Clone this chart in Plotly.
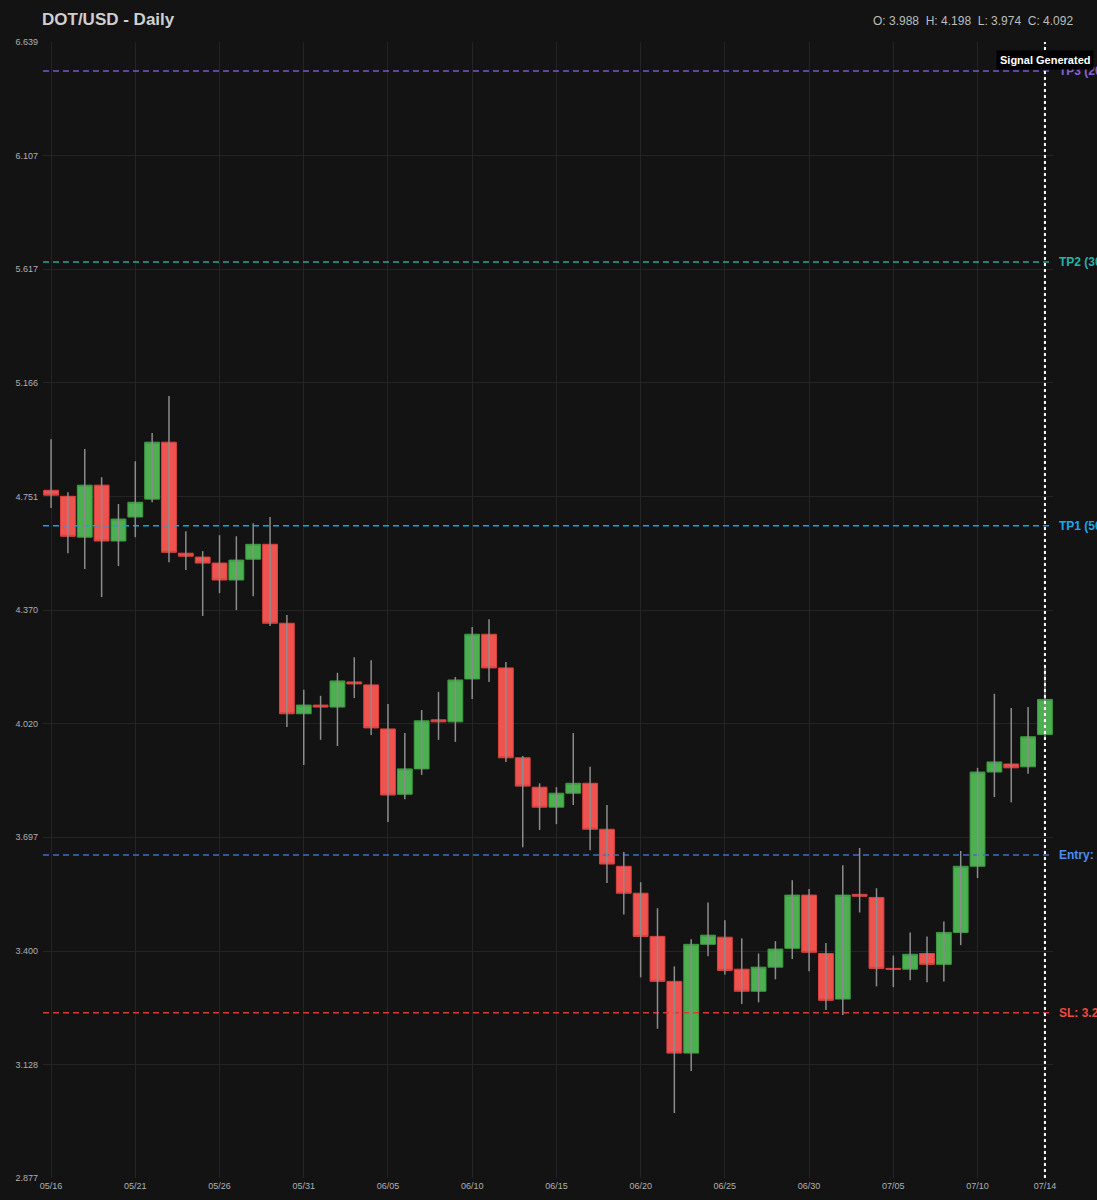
import math
import pandas as pd
import plotly.graph_objects as go

# ---------------- data ----------------
dates = pd.date_range("2025-05-16", "2025-07-14", freq="D")

opens = [4.773, 4.752, 4.611, 4.791, 4.598, 4.680, 4.742, 4.945, 4.557, 4.544,
         4.524, 4.468, 4.537, 4.587, 4.328, 4.049, 4.075, 4.069, 4.145, 4.136,
         4.004, 3.816, 3.888, 4.031, 4.025, 4.154, 4.293, 4.188, 3.920, 3.836,
         3.780, 3.819, 3.847, 3.719, 3.619, 3.548, 3.437, 3.325, 3.154, 3.417,
         3.435, 3.355, 3.301, 3.360, 3.407, 3.543, 3.394, 3.282, 3.545, 3.537,
         3.357, 3.355, 3.394, 3.367, 3.447, 3.619, 3.879, 3.902, 3.894, 3.988]
highs = [4.956, 4.766, 4.920, 4.819, 4.725, 4.876, 4.979, 5.116, 4.631, 4.564,
         4.618, 4.614, 4.659, 4.680, 4.354, 4.121, 4.103, 4.173, 4.221, 4.212,
         4.078, 3.992, 4.060, 4.115, 4.160, 4.316, 4.341, 4.206, 3.925, 3.847,
         3.836, 3.992, 3.894, 3.786, 3.657, 3.577, 3.509, 3.362, 3.430, 3.524,
         3.478, 3.432, 3.394, 3.425, 3.582, 3.559, 3.420, 3.622, 3.668, 3.561,
         3.389, 3.447, 3.437, 3.475, 3.660, 3.891, 4.109, 4.066, 4.069, 4.198]
lows = [4.711, 4.557, 4.504, 4.412, 4.514, 4.611, 4.731, 4.527, 4.501, 4.351,
        4.425, 4.370, 4.415, 4.319, 4.010, 3.899, 3.972, 3.954, 4.096, 3.986,
        3.739, 3.802, 3.871, 3.972, 3.966, 4.093, 4.145, 3.908, 3.670, 3.717,
        3.733, 3.786, 3.662, 3.575, 3.493, 3.335, 3.211, 3.018, 3.113, 3.387,
        3.342, 3.270, 3.274, 3.330, 3.380, 3.350, 3.256, 3.244, 3.498, 3.313,
        3.311, 3.328, 3.323, 3.325, 3.415, 3.588, 3.808, 3.794, 3.874, 3.974]
closes = [4.756, 4.614, 4.791, 4.598, 4.673, 4.731, 4.945, 4.560, 4.547, 4.524,
          4.468, 4.534, 4.587, 4.328, 4.049, 4.075, 4.069, 4.148, 4.139, 4.007,
          3.814, 3.888, 4.028, 4.025, 4.151, 4.293, 4.188, 3.920, 3.839, 3.780,
          3.819, 3.847, 3.719, 3.625, 3.548, 3.437, 3.325, 3.154, 3.417, 3.440,
          3.352, 3.301, 3.360, 3.405, 3.543, 3.397, 3.279, 3.543, 3.540, 3.357,
          3.355, 3.392, 3.367, 3.447, 3.619, 3.879, 3.908, 3.891, 3.981, 4.092]

level_names = ["TP3 (20%): 6.499", "TP2 (30%): 5.646", "TP1 (50%): 4.650",
               "Entry: 3.649", "SL: 3.249"]
level_values = [6.499, 5.646, 4.650, 3.649, 3.249]
level_line_colors = ["#7e57c2", "#26a69a", "#0ea5e9", "#3d6fc4", "#d63a36"]
level_text_colors = ["#8c62d6", "#26b3a5", "#1aa8e8", "#4a8df0", "#ef4a40"]

y_tick_values = [6.639, 6.107, 5.617, 5.166, 4.751, 4.370, 4.020, 3.697, 3.400, 3.128, 2.877]
x_tick_dates = ["2025-05-16", "2025-05-21", "2025-05-26", "2025-05-31", "2025-06-05",
                "2025-06-10", "2025-06-15", "2025-06-20", "2025-06-25", "2025-06-30",
                "2025-07-05", "2025-07-10", "2025-07-14"]
x_tick_labels = ["05/16", "05/21", "05/26", "05/31", "06/05", "06/10", "06/15",
                 "06/20", "06/25", "06/30", "07/05", "07/10", "07/14"]
signal_date = "2025-07-14"
title_text = "DOT/USD - Daily"

# ---------------- figure ----------------
BG = "#131313"
FONT = "Liberation Sans, Arial, sans-serif"
fig = go.Figure()

x_start = dates[0] - pd.Timedelta(hours=11.5)
x_end = dates[-1] + pd.Timedelta(hours=11.5)

# price level lines (behind candles)
for name, val, lc in zip(level_names, level_values, level_line_colors):
    fig.add_trace(go.Scatter(
        x=[x_start, x_end], y=[val, val], mode="lines",
        line=dict(color=lc, width=1.5, dash="6px,4px"),
        hoverinfo="skip", showlegend=False))

# wicks
wx, wy = [], []
for d, lo, hi in zip(dates, lows, highs):
    wx += [d, d, None]
    wy += [lo, hi, None]
fig.add_trace(go.Scatter(x=wx, y=wy, mode="lines",
                         line=dict(color="#8c8c8c", width=1.5),
                         hoverinfo="skip", showlegend=False))

# bodies
body_hi = [max(o, c) for o, c in zip(opens, closes)]
body_lo = [min(o, c) for o, c in zip(opens, closes)]
fig.add_trace(go.Candlestick(
    x=dates, open=opens, high=body_hi, low=body_lo, close=closes,
    increasing=dict(line=dict(color="#3f9a43", width=1), fillcolor="#4caf50"),
    decreasing=dict(line=dict(color="#d9423f", width=1), fillcolor="#ef5350"),
    whiskerwidth=0, showlegend=False))

# signal vertical line
fig.add_trace(go.Scatter(
    x=[signal_date, signal_date], y=[y_tick_values[-1], y_tick_values[0]],
    mode="lines", line=dict(color="#ffffff", width=2, dash="3px,3px"),
    hoverinfo="skip", showlegend=False))

annotations = []
for name, val, tc in zip(level_names, level_values, level_text_colors):
    annotations.append(dict(
        xref="paper", x=1.0, xshift=4, xanchor="left",
        yref="y", y=math.log10(val), yanchor="middle",
        text="<b>" + name + "</b>", showarrow=False,
        font=dict(family=FONT, size=12, color=tc)))

annotations.append(dict(
    xref="x", x=signal_date, yref="paper", y=0.984, xanchor="center", yanchor="middle",
    text="<b>Signal Generated</b>", showarrow=False, bgcolor="#000000",
    borderpad=3, font=dict(family=FONT, size=11, color="#ffffff")))

annotations.append(dict(
    xref="paper", x=0.0, xshift=-3, yref="paper", y=1.0194, xanchor="left", yanchor="middle",
    text="<b>" + title_text + "</b>", showarrow=False,
    font=dict(family=FONT, size=17, color="#cfcfcf")))

last = len(opens) - 1
ohlc_text = "O: %.3f  H: %.3f  L: %.3f  C: %.3f" % (opens[last], highs[last], lows[last], closes[last])
annotations.append(dict(
    xref="paper", x=1.0, xshift=22, yref="paper", y=1.0185, xanchor="right", yanchor="middle",
    text=ohlc_text, showarrow=False,
    font=dict(family=FONT, size=12, color="#bdbdbd")))

fig.update_layout(
    width=1097, height=1200,
    margin=dict(l=43, r=44, t=42, b=22, autoexpand=False),
    paper_bgcolor=BG, plot_bgcolor=BG,
    showlegend=False,
    boxgap=0.12, boxgroupgap=0,
    annotations=annotations,
    xaxis=dict(
        type="date", range=[x_start, x_end], automargin=False,
        rangeslider=dict(visible=False),
        tickvals=x_tick_dates, ticktext=x_tick_labels,
        showgrid=True, gridcolor="#242424", gridwidth=1,
        zeroline=False, showline=False, ticks="", ticklabelstandoff=1,
        tickfont=dict(family=FONT, size=9, color="#b0b0b0")),
    yaxis=dict(
        type="log", range=[math.log10(y_tick_values[-1]), math.log10(y_tick_values[0])],
        automargin=False,
        tickvals=y_tick_values, ticktext=["%.3f" % v for v in y_tick_values],
        showgrid=True, gridcolor="#242424", gridwidth=1,
        zeroline=False, showline=False, ticks="", ticklabelstandoff=4,
        tickfont=dict(family=FONT, size=9, color="#b0b0b0")),
)

fig.write_html("out.html", config={"displayModeBar": False},
               post_script="document.body.style.margin='0';document.body.style.background='#131313';")
